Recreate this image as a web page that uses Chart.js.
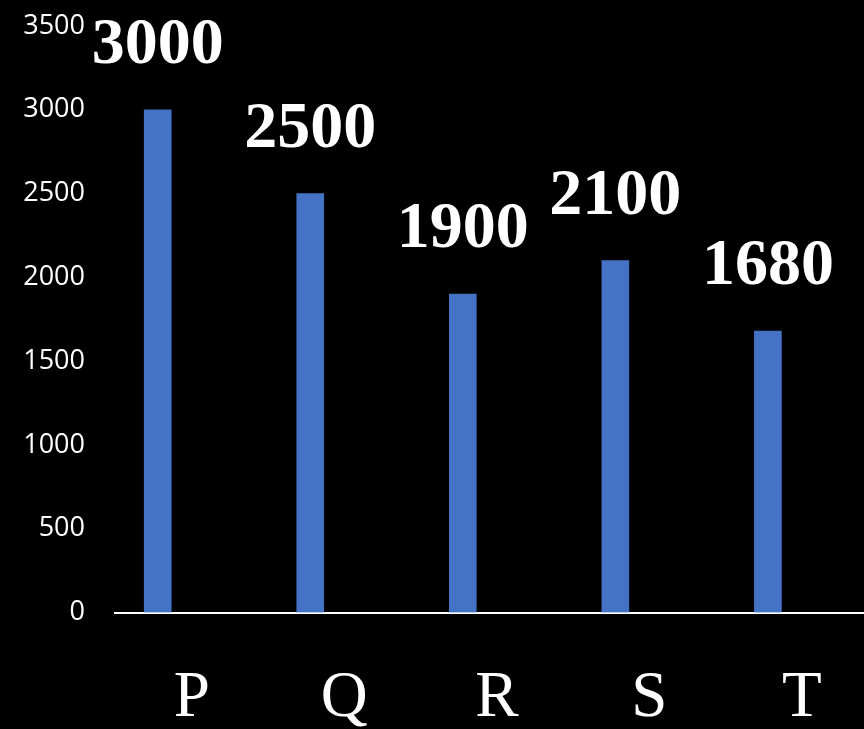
<!DOCTYPE html>
<html lang="en">
<head>
    <meta charset="UTF-8">
    <title>Bar chart</title>
    <script src="https://cdn.jsdelivr.net/npm/chart.js"></script>
    <style>
        html, body {
            margin: 0;
            padding: 0;
            background: #000;
            overflow: hidden;
        }
        .chart-box {
            width: 864px;
            height: 729px;
        }
    </style>
</head>
<body>
    <div class="chart-box">
        <canvas id="barChart"></canvas>
    </div>

    <script>
        const categories = ['P', 'Q', 'R', 'S', 'T'];
        const values = [3000, 2500, 1900, 2100, 1680];
        const yTicks = [0, 500, 1000, 1500, 2000, 2500, 3000, 3500];

        // value labels drawn above each bar
        const barLabels = {
            id: 'barLabels',
            afterDatasetsDraw(chart) {
                const ctx = chart.ctx;
                const meta = chart.getDatasetMeta(0);
                ctx.save();
                ctx.fillStyle = '#ffffff';
                ctx.font = 'bold 66px "Liberation Serif", "Times New Roman", serif';
                ctx.textAlign = 'center';
                ctx.textBaseline = 'alphabetic';
                meta.data.forEach((bar, i) => {
                    ctx.fillText(String(values[i]), bar.x, bar.y - 47);
                });
                ctx.restore();
            }
        };

        new Chart(document.getElementById('barChart'), {
            type: 'bar',
            data: {
                datasets: [{
                    data: values.map((v, i) => ({ x: i, y: v })),
                    backgroundColor: '#4472C4',
                    barThickness: 27
                }]
            },
            options: {
                responsive: true,
                maintainAspectRatio: false,
                animation: false,
                layout: {
                    padding: { top: 26, right: 0, bottom: 0, left: 0 }
                },
                plugins: {
                    legend: { display: false },
                    tooltip: { enabled: false }
                },
                scales: {
                    x: {
                        type: 'linear',
                        offset: false,
                        min: -0.28,
                        max: 4.63,
                        grid: { display: false, drawTicks: false, offset: false },
                        border: { display: true, color: '#ffffff', width: 2 },
                        afterBuildTicks(scale) {
                            scale.ticks = categories.map((c, i) => ({ value: i }));
                        },
                        afterFit(scale) {
                            scale.height = 116.5;
                        },
                        ticks: {
                            includeBounds: false,
                            stepSize: 1,
                            autoSkip: false,
                            maxRotation: 0,
                            labelOffset: 34,
                            padding: 47,
                            color: '#ffffff',
                            font: { family: '"Liberation Serif", "Times New Roman", serif', size: 65 },
                            callback: (v) => categories[v]
                        }
                    },
                    y: {
                        min: 0,
                        max: 3500,
                        grid: { display: false, drawTicks: false },
                        border: { display: false },
                        afterBuildTicks(scale) {
                            scale.ticks = yTicks.map(v => ({ value: v }));
                        },
                        afterFit(scale) {
                            scale.width = 115;
                            // keep the tick padding from pushing the plot area down
                            scale.paddingTop = 0;
                            scale.paddingBottom = 0;
                        },
                        ticks: {
                            padding: 30,
                            color: '#ffffff',
                            font: { family: '"Open Sans", sans-serif', size: 27 },
                            callback: (v) => String(v)
                        }
                    }
                }
            },
            plugins: [barLabels]
        });
    </script>
</body>
</html>
